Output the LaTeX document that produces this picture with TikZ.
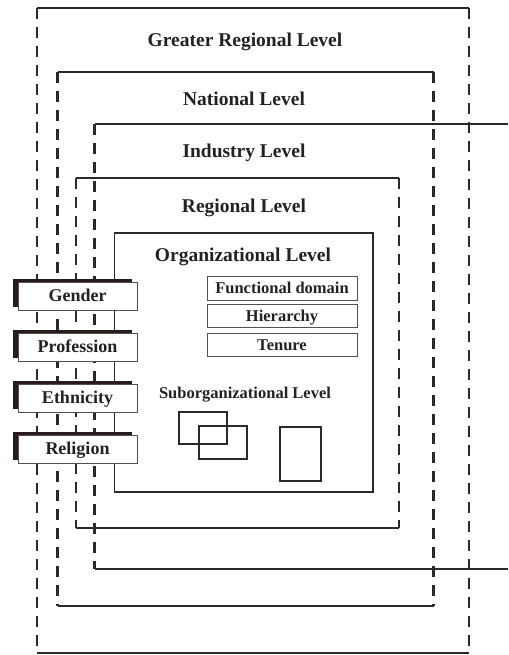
\documentclass[tikz,border=0pt]{standalone}
\usepackage{fontspec}
\setmainfont{Liberation Serif}
\usetikzlibrary{shadows}
\definecolor{linegray}{HTML}{2A2A2A}
\definecolor{boxgray}{HTML}{505050}
\definecolor{textgray}{HTML}{222222}
\definecolor{shadowink}{HTML}{2A1A1C}
\begin{document}
\begin{tikzpicture}[x=1pt,y=-1pt,
  solidedge/.style={draw=linegray, line width=1.5pt},
  dashedge/.style={draw=linegray, line width=2.3pt, dash pattern=on 11pt off 8pt},
  leveltitle/.style={font=\fontsize{19.5}{21}\selectfont\bfseries, text=textgray, inner sep=0pt, anchor=base},
  subtitle/.style={font=\fontsize{16.5}{18}\selectfont\bfseries, text=textgray, inner sep=0pt, anchor=base},
  attrbox/.style={draw=boxgray, line width=0.9pt, fill=white, minimum width=119pt, minimum height=28pt,
    inner sep=0pt, text height=11pt, text depth=0pt,
    font=\fontsize{18}{20}\selectfont\bfseries, text=textgray,
    general shadow={fill=shadowink, shadow xshift=-5pt, shadow yshift=3pt}},
  rolebox/.style={draw=boxgray, line width=0.9pt, fill=white, minimum width=150pt, minimum height=23.5pt,
    inner sep=0pt, text height=10.5pt, text depth=0pt,
    font=\fontsize{16.5}{18}\selectfont\bfseries, text=textgray},
  unitbox/.style={draw=linegray, line width=1.2pt}
]
\useasboundingbox (0,0) rectangle (508,655);

% greater regional frame
\coordinate (grNW) at (37,8);    \coordinate (grNE) at (469,8);
\coordinate (grSW) at (37,653);  \coordinate (grSE) at (469,653);
\draw[solidedge] (grNW) -- (grNE);
\draw[solidedge] (grSW) -- (grSE);
\draw[dashedge] (grNW) -- (grSW);
\draw[dashedge] (grNE) -- (grSE);

% national frame
\coordinate (naNW) at (57.5,72);   \coordinate (naNE) at (433.5,72);
\coordinate (naSW) at (57.5,606);  \coordinate (naSE) at (433.5,606);
\draw[solidedge] (naNW) -- (naNE);
\draw[solidedge] (naSW) -- (naSE);
\draw[dashedge] (naNW) -- (naSW);
\draw[dashedge] (naNE) -- (naSE);

% industry frame, open to the right
\coordinate (inNW) at (94.5,124);  \coordinate (inNE) at (508,124);
\coordinate (inSW) at (94.5,569);  \coordinate (inSE) at (508,569);
\draw[solidedge] (inNW) -- (inNE);
\draw[solidedge] (inSW) -- (inSE);
\draw[dashedge] (inNW) -- (inSW);

% regional frame
\coordinate (reNW) at (76,178);   \coordinate (reNE) at (399,178);
\coordinate (reSW) at (76,528);   \coordinate (reSE) at (399,528);
\draw[solidedge] (reNW) -- (reNE);
\draw[solidedge] (reSW) -- (reSE);
\draw[dashedge] (reNW) -- (reSW);
\draw[dashedge] (reNE) -- (reSE);

% organizational frame
\coordinate (orNW) at (114.5,233);  \coordinate (orSE) at (373,492);
\draw[solidedge] (orNW) rectangle (orSE);

% level titles
\node[leveltitle] (tGreater) at (245,46.5) {Greater Regional Level};
\node[leveltitle] (tNational) at (244,106) {National Level};
\node[leveltitle] (tIndustry) at (244,158) {Industry Level};
\node[leveltitle] (tRegional) at (244,212.5) {Regional Level};
\node[leveltitle] (tOrg) at (243,261.5) {Organizational Level};
\node[subtitle] (tSub) at (245,398.5) {Suborganizational Level};

% organizational attributes
\node[rolebox] (domain) at (282,288.5) {Functional domain};
\node[rolebox] (hierarchy) at (282,316) {Hierarchy};
\node[rolebox] (tenure) at (282,345) {Tenure};

% suborganizational units
\draw[unitbox] (179,412) rectangle (227,444);
\draw[unitbox] (199,426) rectangle (247,459);
\draw[unitbox] (280,427) rectangle (321,481);

% cross-level attributes
\node[attrbox] (gender) at (77.5,296) {Gender};
\node[attrbox] (profession) at (77.5,347) {Profession};
\node[attrbox] (ethnicity) at (77.5,398) {Ethnicity};
\node[attrbox] (religion) at (77.5,449) {Religion};
\end{tikzpicture}
\end{document}
